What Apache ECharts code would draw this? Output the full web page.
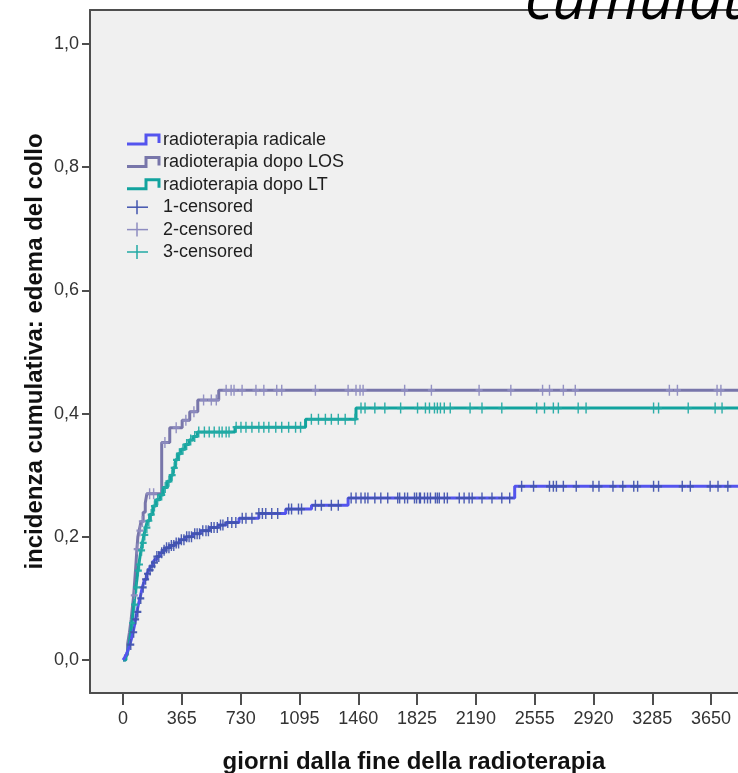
<!DOCTYPE html>
<html>
<head>
<meta charset="utf-8">
<script src="https://cdn.jsdelivr.net/npm/echarts@6/dist/echarts.min.js"></script>
<style>
  html, body { margin: 0; padding: 0; background: #ffffff; }
  #chart { width: 738px; height: 773px; }
</style>
</head>
<body>
<div id="chart"></div>
<script>
// Tick labels
const dayTicks = [0, 365, 730, 1095, 1460, 1825, 2190, 2555, 2920, 3285, 3650];
const incidenceTicks = [0, 0.2, 0.4, 0.6, 0.8, 1.0];

// Group names
const groupNames = ['radioterapia radicale', 'radioterapia dopo LOS', 'radioterapia dopo LT'];
const censorNames = ['1-censored', '2-censored', '3-censored'];

// Cumulative incidence steps: day of each event and incidence after it
const radicaleDays = [0, 10, 22, 32, 42, 52, 62, 70, 78, 86, 95, 105, 113, 120, 128, 135, 148, 160, 172, 185, 197, 210, 228, 245, 265, 289, 320, 351, 390, 431, 480, 535, 590, 640, 720, 843, 1010, 1170, 1397, 2431, 3900];
const radicaleInc = [0, 0.004, 0.010, 0.017, 0.025, 0.034, 0.045, 0.055, 0.066, 0.078, 0.090, 0.100, 0.110, 0.118, 0.125, 0.131, 0.140, 0.146, 0.152, 0.158, 0.163, 0.168, 0.174, 0.178, 0.182, 0.186, 0.190, 0.195, 0.200, 0.205, 0.210, 0.215, 0.219, 0.223, 0.230, 0.238, 0.245, 0.251, 0.263, 0.282, 0.282];

const losDays = [0, 15, 28, 40, 50, 58, 66, 73, 80, 86, 92, 100, 112, 125, 138, 148, 240, 290, 367, 414, 464, 594, 3900];
const losInc = [0, 0.008, 0.025, 0.045, 0.065, 0.085, 0.105, 0.130, 0.155, 0.180, 0.200, 0.210, 0.225, 0.240, 0.255, 0.270, 0.353, 0.377, 0.389, 0.403, 0.422, 0.438, 0.438];

const ltDays = [0, 18, 30, 40, 48, 55, 62, 68, 74, 80, 86, 92, 98, 105, 112, 120, 130, 140, 152, 166, 185, 205, 228, 250, 275, 295, 310, 325, 340, 360, 385, 410, 435, 462, 695, 1133, 1446, 3900];
const ltInc = [0, 0.004, 0.015, 0.030, 0.045, 0.060, 0.076, 0.090, 0.105, 0.118, 0.130, 0.145, 0.155, 0.167, 0.178, 0.190, 0.203, 0.215, 0.226, 0.236, 0.250, 0.260, 0.268, 0.280, 0.290, 0.300, 0.312, 0.325, 0.335, 0.342, 0.350, 0.357, 0.363, 0.370, 0.378, 0.391, 0.409, 0.409];

// Censoring times (days)
const radicaleCensor = [48, 66, 78, 92, 110, 125, 140, 152, 168, 180, 195, 210, 222, 240, 255, 270, 285, 300, 315, 330, 345, 362, 378, 395, 410, 425, 445, 460, 475, 495, 515, 530, 548, 565, 585, 605, 620, 650, 675, 700, 740, 763, 800, 843, 865, 886, 923, 960, 1028, 1046, 1089, 1108, 1194, 1231, 1293, 1336, 1416, 1446, 1477, 1502, 1520, 1563, 1600, 1643, 1705, 1717, 1748, 1766, 1809, 1822, 1840, 1846, 1871, 1890, 1908, 1939, 1951, 1963, 1994, 2013, 2087, 2117, 2148, 2167, 2228, 2290, 2351, 2400, 2474, 2548, 2647, 2671, 2690, 2733, 2813, 2917, 2954, 3041, 3102, 3170, 3194, 3293, 3324, 3471, 3521, 3644, 3693, 3754];
const losCensor = [70, 88, 105, 120, 165, 190, 260, 330, 390, 440, 500, 548, 579, 640, 671, 689, 739, 825, 874, 954, 985, 1194, 1397, 1446, 1471, 1490, 1748, 1914, 2210, 2407, 2604, 2647, 2733, 2807, 3391, 3441, 3687, 3711];
const ltCensor = [60, 72, 84, 95, 102, 115, 125, 135, 148, 160, 175, 195, 215, 240, 262, 285, 305, 318, 332, 350, 372, 395, 420, 445, 470, 505, 535, 566, 597, 615, 640, 658, 702, 732, 763, 800, 843, 874, 905, 948, 985, 1028, 1071, 1102, 1169, 1213, 1256, 1293, 1336, 1379, 1440, 1477, 1502, 1563, 1625, 1723, 1828, 1877, 1902, 1933, 1951, 1970, 1994, 2031, 2154, 2228, 2351, 2567, 2616, 2671, 2702, 2825, 2874, 3293, 3324, 3508, 3675, 3718];

// Colours
const lineColors = ['#5454ee', '#7876aa', '#12a39e'];
const censorColors = ['#4254ae', '#8e8cc0', '#22aaa4'];

function pairs(days, inc) {
  return days.map((d, i) => [d, inc[i]]);
}
// Incidence at time t
function stepValue(days, inc, t) {
  let v = 0;
  for (let i = 0; i < days.length; i++) {
    if (days[i] <= t) v = inc[i]; else break;
  }
  return v;
}
function censorPoints(times, days, inc) {
  return times.map(t => [t, stepValue(days, inc, t)]);
}

const plusSymbol = 'path://M4,0H6V4H10V6H6V10H4V6H0V4H4Z';

const curves = [
  { days: radicaleDays, inc: radicaleInc, censor: radicaleCensor },
  { days: losDays, inc: losInc, censor: losCensor },
  { days: ltDays, inc: ltInc, censor: ltCensor }
];

const series = [];
const drawOrder = [1, 2, 0];
drawOrder.forEach((g, k) => {
  const c = curves[g];
  series.push({
    name: groupNames[g],
    type: 'line',
    step: 'end',
    data: pairs(c.days, c.inc),
    showSymbol: false,
    lineStyle: { width: 3, color: lineColors[g] },
    z: 2 + k
  });
});
drawOrder.forEach((g, k) => {
  const c = curves[g];
  series.push({
    name: censorNames[g],
    type: 'scatter',
    data: censorPoints(c.censor, c.days, c.inc),
    symbol: plusSymbol,
    symbolSize: [7, 11],
    itemStyle: { color: censorColors[g], opacity: 0.95 },
    z: 6 + k
  });
});

// Legend drawn as graphics
const legendTop = 140;
const legendStep = 22.4;
const legendFont = { fontFamily: 'Liberation Sans', fontSize: 18, fill: '#1e1e1e', verticalAlign: 'middle' };
const legendItems = [];
for (let i = 0; i < 3; i++) {
  const yc = legendTop + i * legendStep;
  legendItems.push({
    type: 'polyline',
    shape: { points: [[127, yc + 4], [146, yc + 4], [146, yc - 5], [159, yc - 5], [159, yc + 3]] },
    style: { stroke: lineColors[i], lineWidth: 3, fill: null }
  });
  legendItems.push({ type: 'text', x: 163, y: yc, style: Object.assign({ text: groupNames[i] }, legendFont) });
}
for (let i = 0; i < 3; i++) {
  const yc = legendTop + (i + 3) * legendStep;
  legendItems.push({
    type: 'line', shape: { x1: 127, y1: yc, x2: 148, y2: yc },
    style: { stroke: censorColors[i], lineWidth: 1.5 }
  });
  legendItems.push({
    type: 'line', shape: { x1: 137, y1: yc - 7, x2: 137, y2: yc + 7 },
    style: { stroke: censorColors[i], lineWidth: 1.5 }
  });
  legendItems.push({ type: 'text', x: 163, y: yc, style: Object.assign({ text: censorNames[i] }, legendFont) });
}

const axisLineStyle = { color: '#4e4e4e', width: 2 };
const xMin = -205, xMax = 3817;

const option = {
  animation: false,
  backgroundColor: '#ffffff',
  grid: {
    left: 90, top: 10, right: 0, bottom: 80, containLabel: false, outerBoundsMode: 'none',
    show: true, backgroundColor: '#f0f0f0', borderWidth: 0
  },
  xAxis: [
    {
      type: 'value', min: xMin, max: xMax, position: 'bottom',
      axisLine: { show: true, onZero: false, lineStyle: axisLineStyle },
      axisTick: { show: true, customValues: dayTicks, length: 12, lineStyle: axisLineStyle },
      axisLabel: {
        customValues: dayTicks, fontFamily: 'Liberation Sans', fontSize: 18, color: '#333', margin: 17,
        formatter: v => String(v)
      },
      splitLine: { show: false },
      name: 'giorni dalla fine della radioterapia', nameLocation: 'middle', nameGap: 57, nameMoveOverlap: false,
      nameTextStyle: { fontFamily: 'Liberation Sans', fontWeight: 'bold', fontSize: 24, color: '#111' }
    },
    {
      type: 'value', min: xMin, max: xMax, position: 'top',
      axisLine: { show: true, onZero: false, lineStyle: axisLineStyle },
      axisTick: { show: false }, axisLabel: { show: false }, splitLine: { show: false }
    }
  ],
  yAxis: {
    type: 'value', min: -0.0536, max: 1.0552,
    axisLine: { show: true, onZero: false, lineStyle: axisLineStyle },
    axisTick: { show: true, customValues: incidenceTicks, length: 8, lineStyle: axisLineStyle },
    axisLabel: {
      customValues: incidenceTicks, fontFamily: 'Liberation Sans', fontSize: 18, color: '#333', margin: 11,
      formatter: v => v.toFixed(1).replace('.', ',')
    },
    splitLine: { show: false },
    name: 'incidenza cumulativa: edema del collo', nameLocation: 'middle', nameGap: 43, nameRotate: 90,
    nameMoveOverlap: false,
    nameTextStyle: { fontFamily: 'Liberation Sans', fontWeight: 'bold', fontSize: 24, color: '#111' }
  },
  series: series,
  graphic: [
    { type: 'group', children: legendItems, z: 20 },
    {
      type: 'text', x: 525, y: 32, z: 30,
      style: { text: 'cumulativa', fontFamily: 'Open Sans', fontStyle: 'italic', fontSize: 60, fill: '#000', verticalAlign: 'bottom' }
    }
  ]
};

const chart = echarts.init(document.getElementById('chart'), null, { renderer: 'canvas' });
chart.setOption(option);
</script>
</body>
</html>
